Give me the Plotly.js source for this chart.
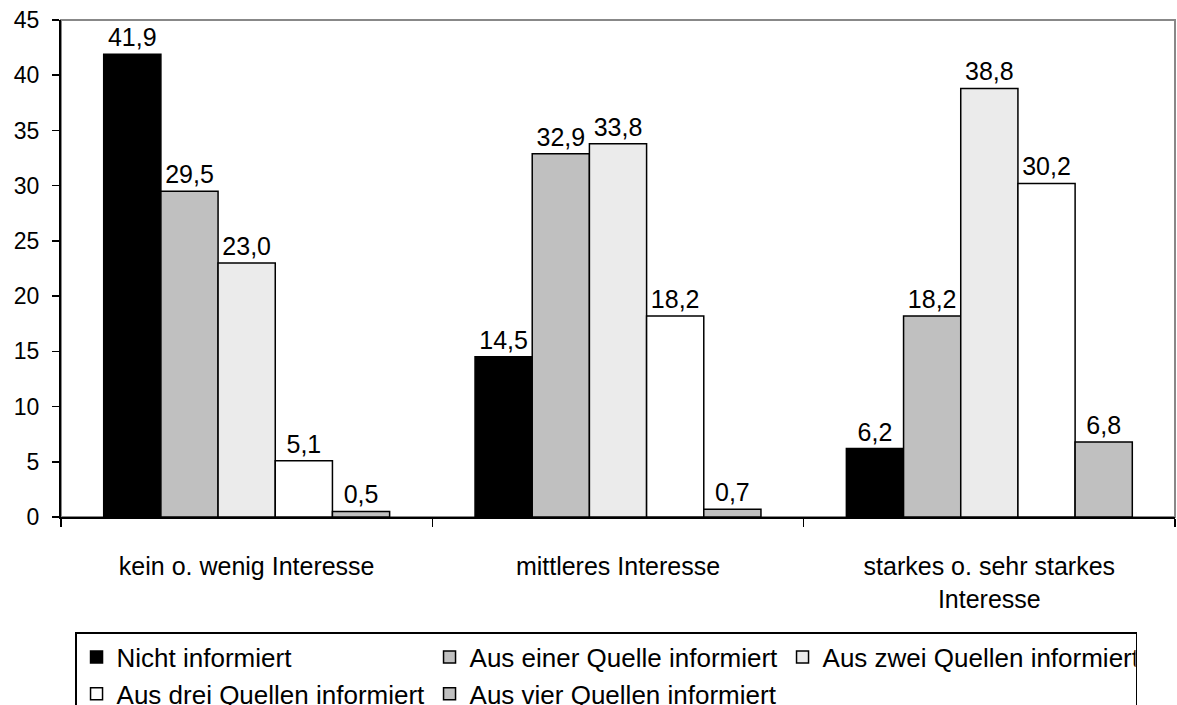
<!DOCTYPE html>
<html><head><meta charset="utf-8">
<script src="https://cdn.plot.ly/plotly-3.0.1.min.js"></script>
<style>html,body{margin:0;padding:0;background:#fff}</style>
</head><body><div id="chart" style="width:1177px;height:705px"></div>
<script>
const categories = ["kein o. wenig Interesse", "mittleres Interesse", "starkes o. sehr starkes<br>Interesse"];
const seriesNames = ["Nicht informiert", "Aus einer Quelle informiert", "Aus zwei Quellen informiert", "Aus drei Quellen informiert", "Aus vier Quellen informiert"];
const nichtInformiert = [41.9, 14.5, 6.2];
const ausEiner = [29.5, 32.9, 18.2];
const ausZwei = [23.0, 33.8, 38.8];
const ausDrei = [5.1, 18.2, 30.2];
const ausVier = [0.5, 0.7, 6.8];
const yTicks = [0, 5, 10, 15, 20, 25, 30, 35, 40, 45];

const seriesValues = [nichtInformiert, ausEiner, ausZwei, ausDrei, ausVier];
const colors = ["#000000", "#c0c0c0", "#ebebeb", "#ffffff", "#c0c0c0"];
const FONT = "Liberation Sans, Arial, sans-serif";

const traces = seriesValues.map((vals, i) => ({
  type: "bar",
  name: seriesNames[i],
  x: categories,
  y: vals,
  marker: {color: colors[i], line: {color: "#000", width: 1.5}},
  texttemplate: "%{y:.1f}",
  textposition: "outside",
  textfont: {family: FONT, size: 25, color: "#000"},
  cliponaxis: false,
  hoverinfo: "none"
}));

const layout = {
  width: 1177, height: 705,
  margin: {l: 61, r: 2, t: 20, b: 188, autoexpand: false},
  paper_bgcolor: "#fff", plot_bgcolor: "#fff",
  separators: ", ",
  barmode: "group",
  bargap: 0.23,
  bargroupgap: 0,
  font: {family: FONT, size: 24, color: "#000"},
  showlegend: true,
  xaxis: {
    type: "category",
    tickson: "boundaries",
    ticks: "outside", ticklen: 8, tickcolor: "#000", tickwidth: 1.5,
    showline: true, linecolor: "#000", linewidth: 2,
    showgrid: false, zeroline: false,
    ticklabelstandoff: 26,
    automargin: false,
    tickfont: {family: FONT, size: 25, color: "#000"}
  },
  yaxis: {
    range: [0, 45],
    tickvals: yTicks,
    ticktext: yTicks.map(String),
    ticks: "outside", ticklen: 7, tickcolor: "#000", tickwidth: 1.5,
    showline: true, linecolor: "#000", linewidth: 2,
    showgrid: false, zeroline: false,
    ticklabelstandoff: 8,
    automargin: false,
    tickfont: {family: FONT, size: 23, color: "#000"}
  },
  shapes: [{
    type: "rect", xref: "paper", yref: "paper", x0: 0, x1: 1, y0: 0, y1: 1,
    line: {color: "#888", width: 2}, layer: "below"
  }],
  legend: {
    orientation: "h",
    x: 0.0126, xanchor: "left",
    y: -0.2314, yanchor: "top",
    bordercolor: "#000", borderwidth: 1.5,
    bgcolor: "#fff",
    entrywidth: 308, entrywidthmode: "pixels",
    traceorder: "normal",
    itemwidth: 30,
    font: {family: FONT, size: 26, color: "#000"}
  }
};

Plotly.newPlot("chart", traces, layout, {displayModeBar: false, staticPlot: true});
</script></body></html>
